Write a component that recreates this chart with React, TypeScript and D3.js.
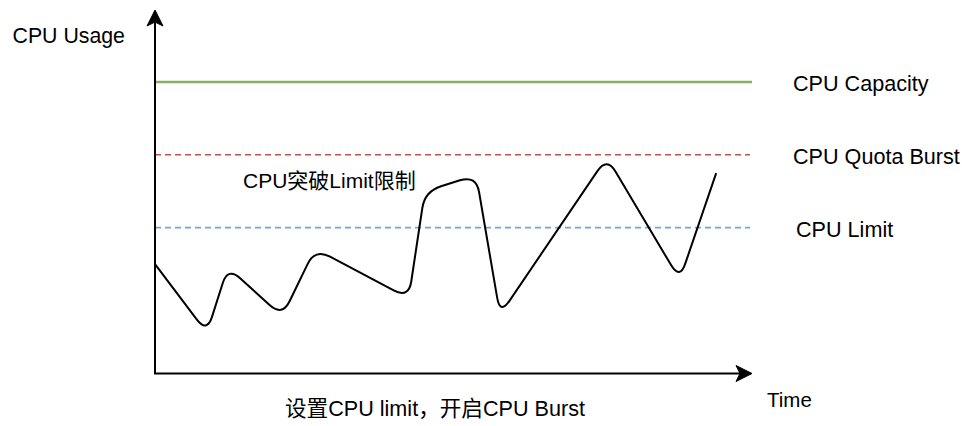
import React from "react";
import * as d3 from "d3";

// ---- data ----
const timePoints = [0, 8.7, 12.2, 21.3, 26.8, 42.5, 45.2, 53.8, 57.8, 75.7, 87.9, 94.0];
const usageValues = [30.2, 11.3, 29.4, 15.8, 34.4, 20.8, 50.2, 54.6, 16.3, 59.6, 25.9, 55.2];
const thresholdNames = ["CPU Capacity", "CPU Quota Burst", "CPU Limit"];
const thresholdValues = [80, 60, 40];
const yAxisTitle = "CPU Usage";
const xAxisTitle = "Time";
const burstNote = "CPU突破Limit限制";
const caption = "设置CPU limit，开启CPU Burst";

const W = 962;
const H = 426;
const FONT = "'Liberation Sans', Arial, 'Noto Sans CJK SC', sans-serif";

const x = d3.scaleLinear().domain([0, 100]).range([155, 752]);
const y = d3.scaleLinear().domain([0, 100]).range([374, 10]);

function roundedPath(pts: [number, number][], radius: number): string {
  const p = d3.path();
  p.moveTo(pts[0][0], pts[0][1]);
  for (let i = 1; i < pts.length - 1; i++) {
    const [x0, y0] = pts[i - 1];
    const [x1, y1] = pts[i];
    const [x2, y2] = pts[i + 1];
    const l1 = Math.hypot(x1 - x0, y1 - y0);
    const l2 = Math.hypot(x2 - x1, y2 - y1);
    const r = Math.min(radius, l1 / 2, l2 / 2);
    const ax = x1 - ((x1 - x0) / l1) * r;
    const ay = y1 - ((y1 - y0) / l1) * r;
    const bx = x1 + ((x2 - x1) / l2) * r;
    const by = y1 + ((y2 - y1) / l2) * r;
    p.lineTo(ax, ay);
    p.quadraticCurveTo(x1, y1, bx, by);
  }
  const last = pts[pts.length - 1];
  p.lineTo(last[0], last[1]);
  return p.toString();
}

const thresholdColors = ["#82b366", "#b85450", "#6fa5e0"];

export default function App() {
  const pts: [number, number][] = timePoints.map((t, i) => [x(t), y(usageValues[i])]);
  const curve = roundedPath(pts, 17);

  const x0 = x(0);
  const y0 = y(0) - 0.5;
  const yTop = y(100);
  const xEnd = x(100);

  const yArrow = `M${x0},${yTop} L${x0 - 8},${yTop + 16} L${x0},${yTop + 12} L${x0 + 8},${yTop + 16} Z`;
  const xArrow = `M${xEnd},${y0} L${xEnd - 16},${y0 - 8} L${xEnd - 12},${y0} L${xEnd - 16},${y0 + 8} Z`;

  return (
    <div style={{ position: "absolute", left: 0, top: 0 }}>
      <svg width={W} height={H} style={{ display: "block", background: "#fff" }} fontFamily={FONT}>
        {/* threshold lines */}
        {thresholdValues.map((v, i) => (
          <line
            key={"t" + i}
            x1={x0}
            x2={i === 0 ? xEnd : xEnd - 2}
            y1={y(v) - 0.8}
            y2={y(v) - 0.8}
            stroke={thresholdColors[i]}
            strokeWidth={i === 0 ? 2.4 : 1.6}
            strokeDasharray={i === 0 ? undefined : "6 4"}
          />
        ))}
        {/* axes */}
        <line x1={x0} x2={x0} y1={y0} y2={yTop + 12} stroke="#000" strokeWidth={2} />
        <line x1={x0 - 1} x2={xEnd - 12} y1={y0} y2={y0} stroke="#000" strokeWidth={2} />
        <path d={yArrow} fill="#000" stroke="#000" strokeWidth={1} />
        <path d={xArrow} fill="#000" stroke="#000" strokeWidth={1} />
        {/* usage curve */}
        <path d={curve} fill="none" stroke="#000" strokeWidth={2} strokeLinejoin="round" />
        {/* texts */}
        <text x={12.5} y={43} fontSize={21.3} fill="#000">{yAxisTitle}</text>
        {thresholdNames.map((n, i) => (
          <text key={"n" + i} x={i === 2 ? 796 : 793} y={y(thresholdValues[i]) + 8.5} fontSize={21.6} fill="#000">
            {n}
          </text>
        ))}
        <text x={243} y={188} fontSize={21} fill="#000">{burstNote}</text>
        <text x={767} y={407} fontSize={20.5} fill="#000">{xAxisTitle}</text>
        <text x={285} y={416} fontSize={21.6} fill="#000">{caption}</text>
      </svg>
    </div>
  );
}
